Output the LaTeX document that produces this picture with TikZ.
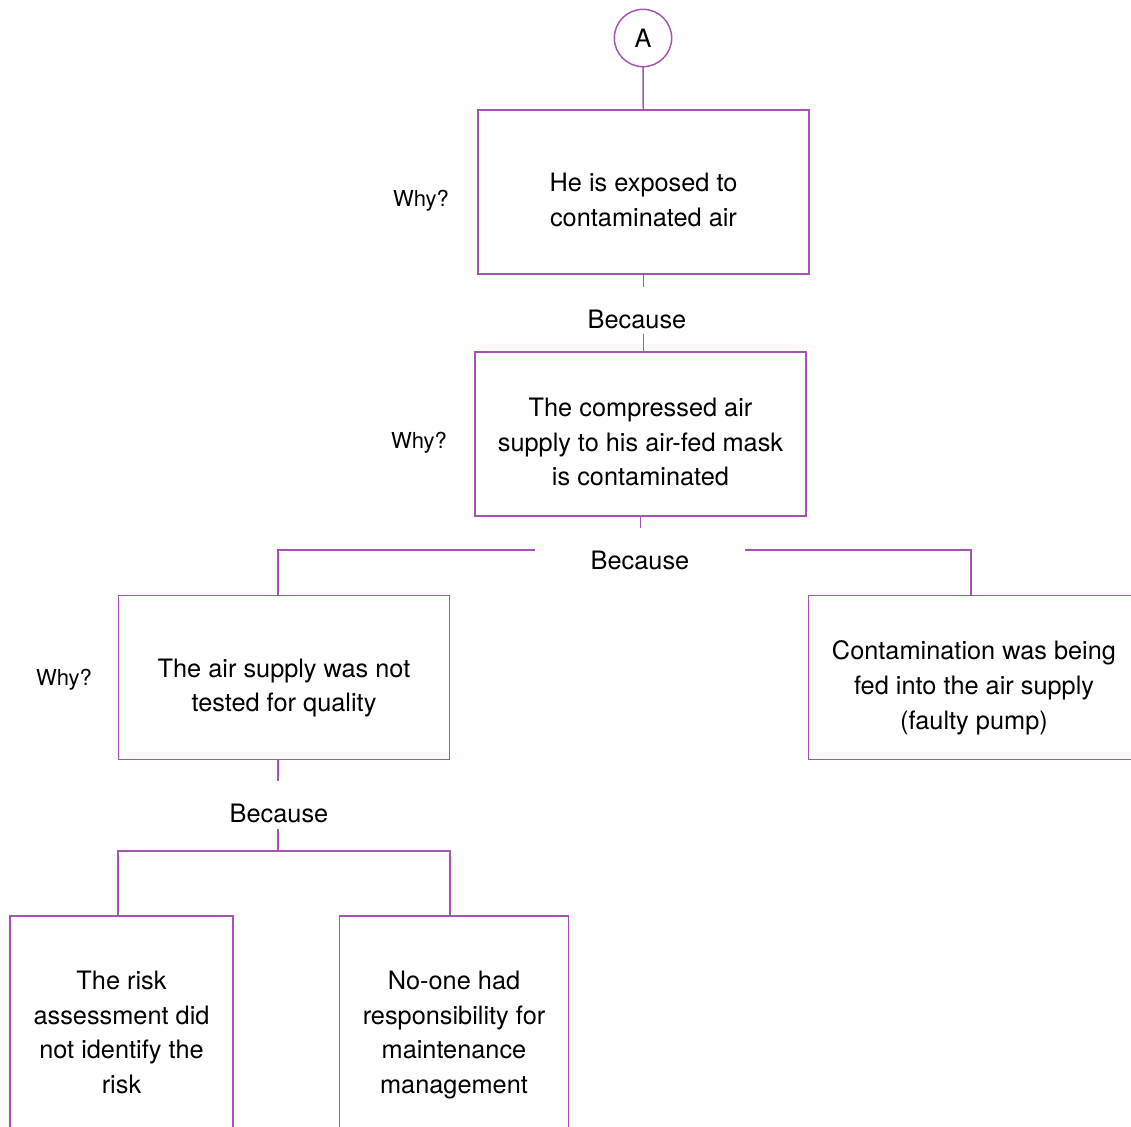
\documentclass[tikz,border=0pt]{standalone}
\usepackage{fontspec}
\setmainfont{TeX Gyre Heros}
\definecolor{whyline}{RGB}{166,84,180}
\newcommand{\boxtop}{\rule{0pt}{31.5pt}}
\begin{document}
\begin{tikzpicture}[x=0.75pt,y=-0.75pt]
    \tikzstyle{every node}=[font=\fontsize{19}{26}\selectfont, inner sep=0pt, outer sep=0pt];
    \tikzstyle{link}=[draw=whyline, line width=1.1pt];
    \tikzstyle{causebox}=[draw=whyline, line width=1.1pt, align=center, minimum width=248.25pt, minimum height=123pt,
        execute at end node={\rule[-6pt]{0pt}{6pt}}];
    \tikzstyle{because}=[anchor=base, text height=30.75pt];
    \tikzstyle{why}=[anchor=base, font=\fontsize{16.5}{20}\selectfont];
    \useasboundingbox (0,0) rectangle (1131,1127);
    \clip (0,0) rectangle (1131,1127);

    \node (start) at (643,38) [circle, draw=whyline, line width=1.1pt, minimum size=43pt] {A};
    \node (exposed) at (643.5,192) [causebox] {\boxtop He is exposed to\\contaminated air};
    \node (compressed) at (640.5,434) [causebox] {\boxtop The compressed air\\supply to his air-fed mask\\is contaminated};
    \node (untested) at (284,677.5) [causebox] {\boxtop The air supply was not\\tested for quality};
    \node (pump) at (974,677.5) [causebox] {\boxtop Contamination was being\\fed into the air supply\\(faulty pump)};
    \node (riskassess) at (121.5,1024.5) [causebox, minimum width=167.25pt, minimum height=162.75pt] {\boxtop The risk\\assessment did\\not identify the\\risk};
    \node (noone) at (454,1024.5) [causebox, minimum width=171.75pt, minimum height=162.75pt] {\boxtop No-one had\\responsibility for\\maintenance\\management};

    \node (why1) at (421,206) [why] {Why?};
    \node (why2) at (419,448) [why] {Why?};
    \node (why3) at (64,685) [why] {Why?};

    \node (because1) at (637,328) [because, text depth=4.5pt] {Because};
    \node (because2) at (640,569) [because, text depth=2.25pt, minimum width=157.5pt] {Because};
    \node (because3) at (279,822) [because, text depth=5.25pt] {Because};
    \coordinate (fork) at (278,851);

    \draw[link] (start) -- (exposed);
    \draw[link] (exposed.south) -- (exposed.south |- because1.north);
    \draw[link] (exposed.south |- because1.south) -- (exposed.south |- compressed.north);
    \draw[link] (compressed.south) -- (compressed.south |- because2.north);
    \draw[link] (because2.west) -| ([xshift=-4.5pt]untested.north);
    \draw[link] (because2.east) -| ([xshift=-2.25pt]pump.north);
    \draw[link] ([xshift=-4.5pt]untested.south) -- (fork |- because3.north);
    \draw[link] (fork |- because3.south) -- (fork);
    \draw[link] ([xshift=-2.6pt]riskassess.north) |- (fork) -| ([xshift=-3pt]noone.north);
\end{tikzpicture}
\end{document}
